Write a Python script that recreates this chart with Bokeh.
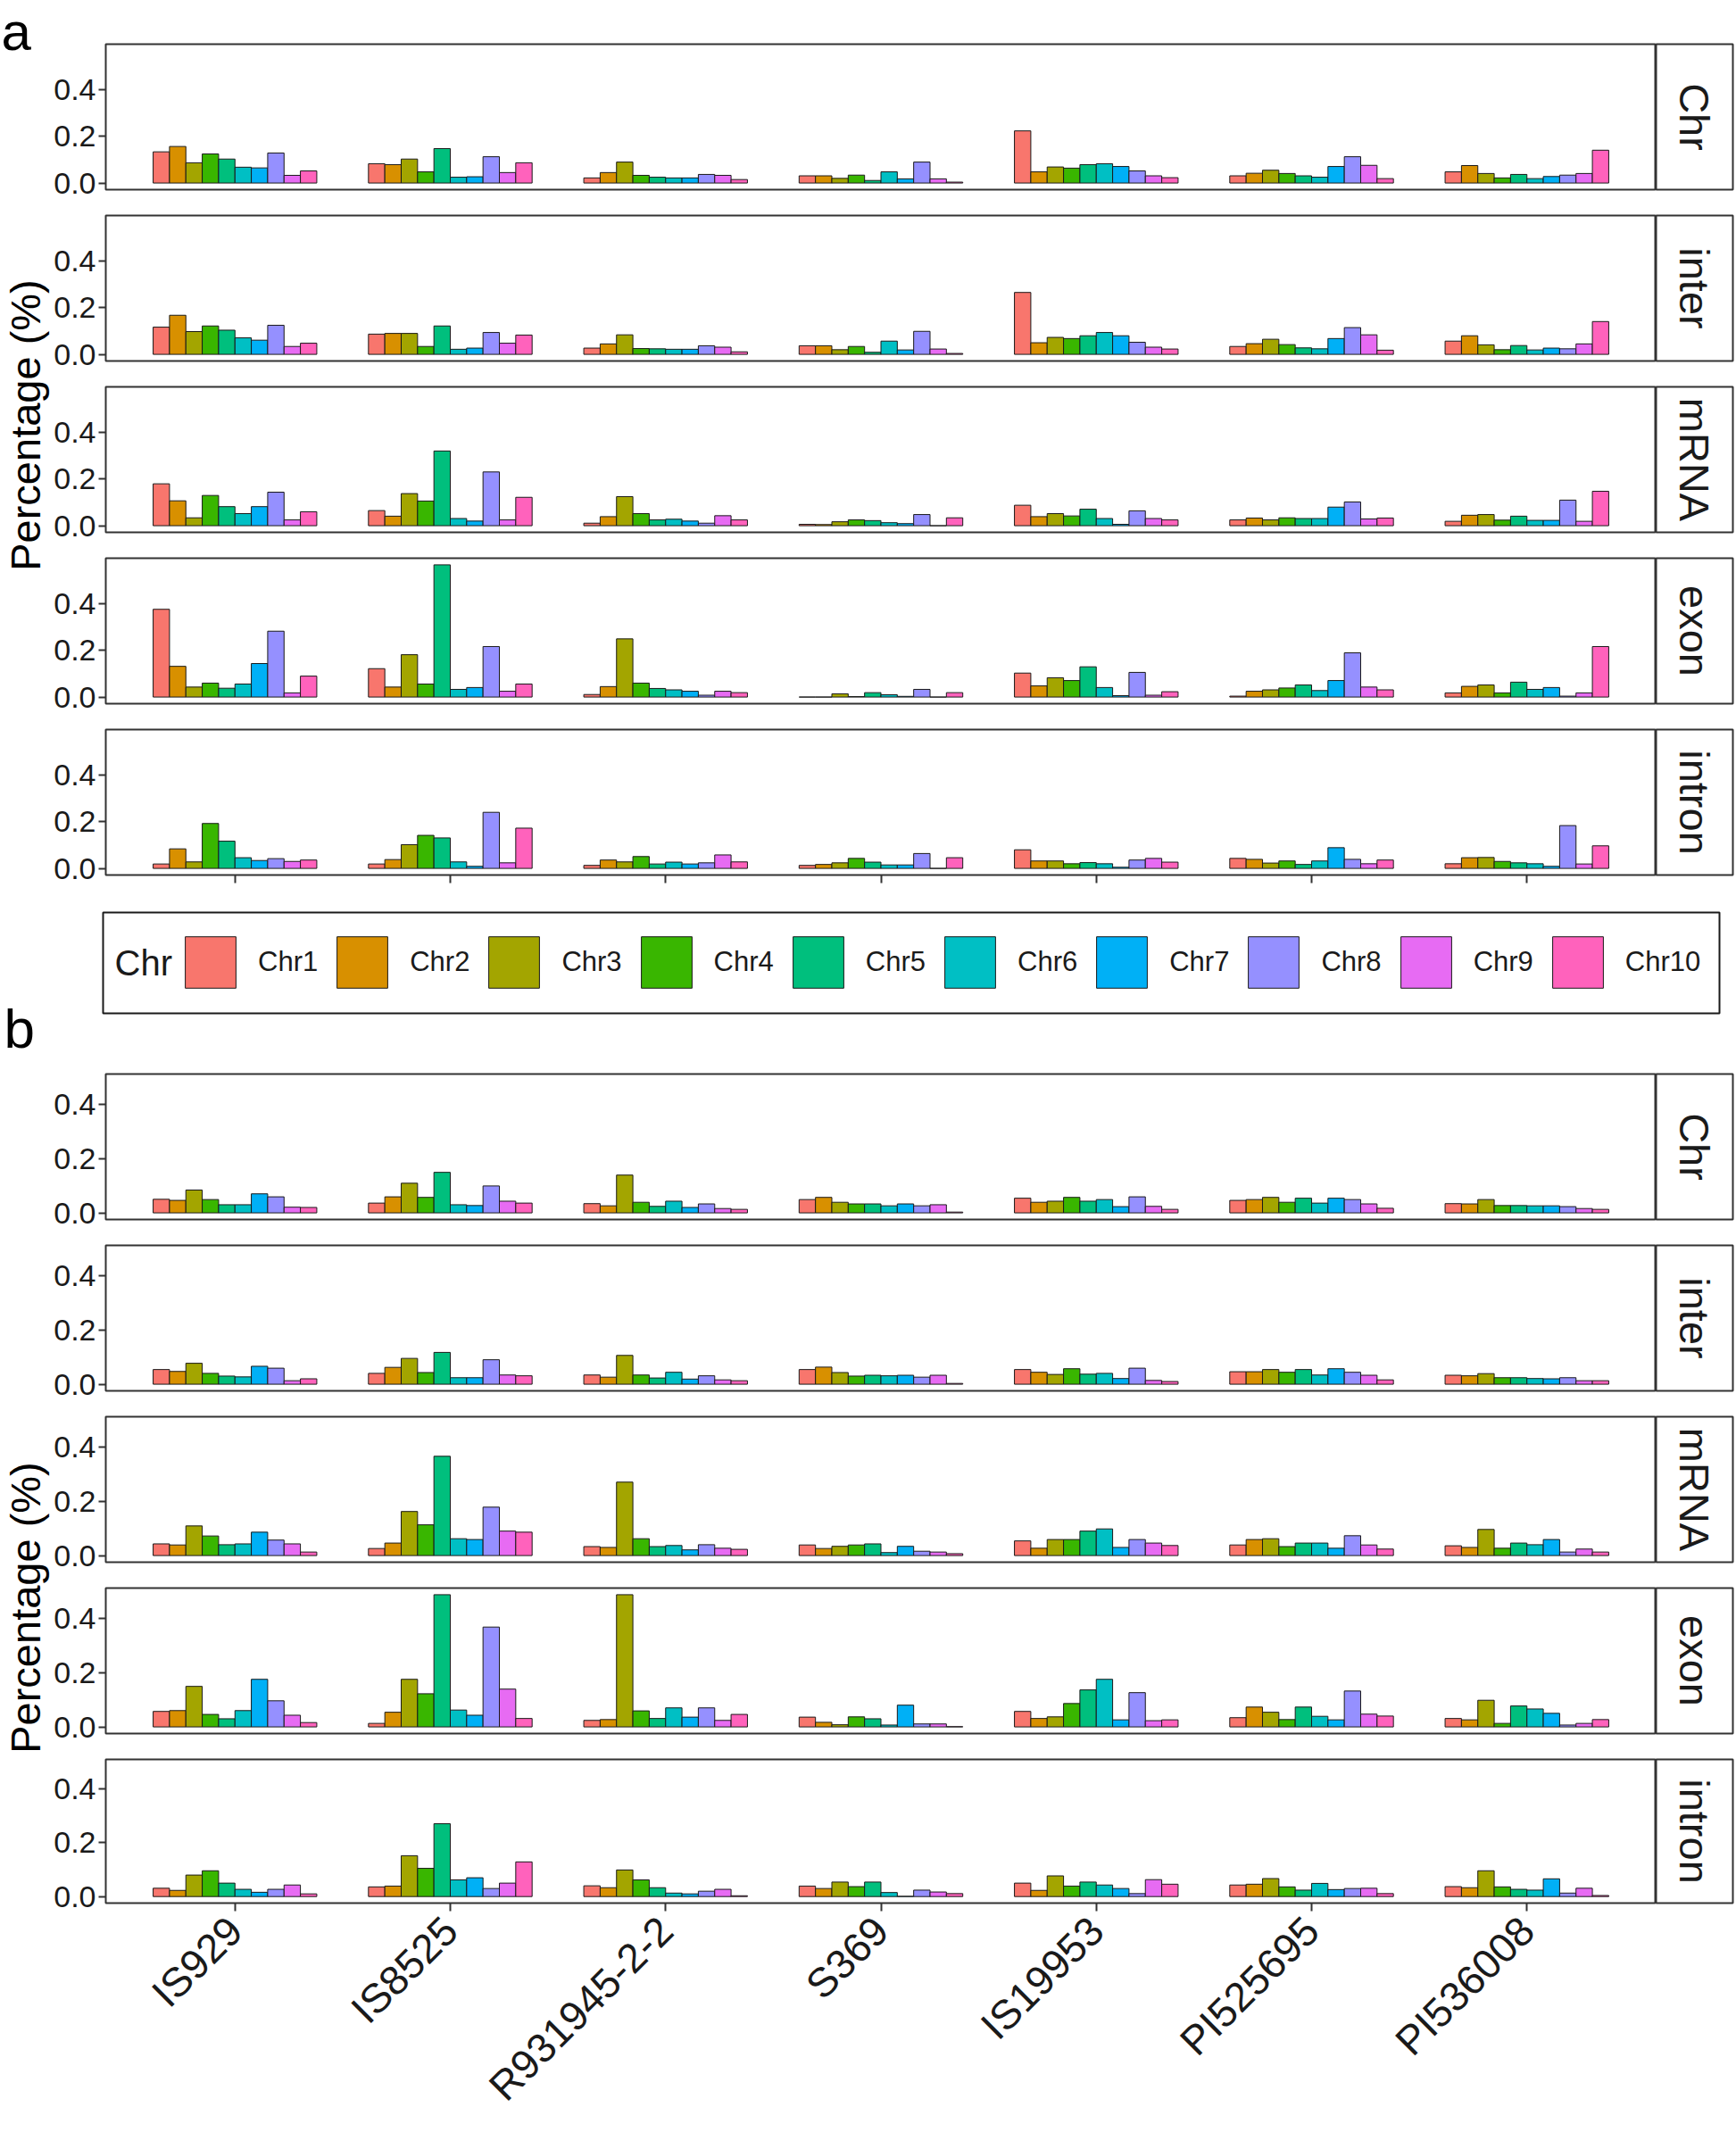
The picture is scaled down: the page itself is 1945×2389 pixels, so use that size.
import math
from bokeh.plotting import figure
from bokeh.layouts import row, column
from bokeh.models import (Range1d, FixedTicker, PrintfTickFormatter, ColumnDataSource,
                          Legend, LegendItem)
from bokeh.core.properties import value
from bokeh.embed import file_html
from bokeh.resources import INLINE

FONT = "Liberation Sans"

samples = ["IS929", "IS8525", "R931945-2-2", "S369", "IS19953", "PI525695", "PI536008"]
chroms = ["Chr1", "Chr2", "Chr3", "Chr4", "Chr5", "Chr6", "Chr7", "Chr8", "Chr9", "Chr10"]
colors = ["#F8766D", "#D89000", "#A3A500", "#39B600", "#00BF7D",
          "#00BFC4", "#00B0F6", "#9590FF", "#E76BF3", "#FF62BC"]
regions = ["Chr", "inter", "mRNA", "exon", "intron"]
y_ticks = [0.0, 0.2, 0.4]

# ---------------- panel a ----------------
a_Chr = [
    [0.134, 0.157, 0.087, 0.125, 0.103, 0.068, 0.065, 0.129, 0.033, 0.052],
    [0.083, 0.079, 0.103, 0.048, 0.148, 0.025, 0.027, 0.113, 0.045, 0.087],
    [0.022, 0.045, 0.090, 0.033, 0.025, 0.022, 0.022, 0.037, 0.033, 0.015],
    [0.031, 0.031, 0.020, 0.034, 0.011, 0.048, 0.018, 0.090, 0.018, 0.004],
    [0.224, 0.048, 0.069, 0.064, 0.079, 0.083, 0.071, 0.052, 0.031, 0.023],
    [0.031, 0.042, 0.055, 0.041, 0.031, 0.025, 0.071, 0.113, 0.076, 0.019],
    [0.048, 0.075, 0.041, 0.022, 0.037, 0.019, 0.028, 0.034, 0.041, 0.141],
]
a_inter = [
    [0.117, 0.168, 0.098, 0.122, 0.104, 0.071, 0.061, 0.125, 0.034, 0.048],
    [0.087, 0.090, 0.090, 0.034, 0.122, 0.022, 0.027, 0.094, 0.048, 0.083],
    [0.027, 0.045, 0.084, 0.025, 0.024, 0.022, 0.022, 0.037, 0.031, 0.011],
    [0.037, 0.037, 0.020, 0.034, 0.009, 0.057, 0.019, 0.099, 0.023, 0.004],
    [0.266, 0.050, 0.073, 0.068, 0.080, 0.094, 0.080, 0.052, 0.031, 0.023],
    [0.034, 0.046, 0.065, 0.042, 0.028, 0.024, 0.068, 0.115, 0.084, 0.018],
    [0.057, 0.080, 0.041, 0.020, 0.038, 0.019, 0.027, 0.024, 0.045, 0.141],
]
a_mRNA = [
    [0.180, 0.107, 0.034, 0.130, 0.082, 0.052, 0.082, 0.144, 0.025, 0.060],
    [0.065, 0.041, 0.138, 0.106, 0.321, 0.031, 0.020, 0.231, 0.025, 0.122],
    [0.011, 0.039, 0.125, 0.052, 0.025, 0.028, 0.020, 0.011, 0.043, 0.025],
    [0.006, 0.005, 0.017, 0.025, 0.022, 0.013, 0.009, 0.048, 0.000, 0.034],
    [0.088, 0.039, 0.052, 0.042, 0.071, 0.031, 0.006, 0.064, 0.031, 0.025],
    [0.025, 0.033, 0.025, 0.034, 0.031, 0.031, 0.080, 0.102, 0.029, 0.033],
    [0.019, 0.045, 0.048, 0.024, 0.041, 0.023, 0.023, 0.110, 0.019, 0.148],
]
a_exon = [
    [0.377, 0.132, 0.043, 0.060, 0.038, 0.056, 0.144, 0.283, 0.018, 0.090],
    [0.122, 0.043, 0.182, 0.056, 0.568, 0.033, 0.041, 0.217, 0.025, 0.056],
    [0.011, 0.045, 0.250, 0.060, 0.037, 0.031, 0.025, 0.008, 0.025, 0.019],
    [0.000, 0.000, 0.014, 0.002, 0.019, 0.010, 0.003, 0.033, 0.000, 0.019],
    [0.103, 0.048, 0.083, 0.071, 0.130, 0.041, 0.006, 0.106, 0.008, 0.023],
    [0.004, 0.025, 0.031, 0.039, 0.052, 0.028, 0.071, 0.190, 0.043, 0.031],
    [0.018, 0.046, 0.052, 0.018, 0.064, 0.033, 0.041, 0.004, 0.018, 0.217],
]
a_intron = [
    [0.019, 0.084, 0.028, 0.193, 0.117, 0.046, 0.034, 0.042, 0.030, 0.036],
    [0.019, 0.038, 0.102, 0.142, 0.131, 0.028, 0.009, 0.241, 0.024, 0.173],
    [0.013, 0.036, 0.028, 0.051, 0.019, 0.027, 0.019, 0.024, 0.058, 0.028],
    [0.013, 0.017, 0.024, 0.043, 0.027, 0.015, 0.015, 0.064, 0.000, 0.046],
    [0.080, 0.032, 0.032, 0.020, 0.025, 0.020, 0.005, 0.036, 0.043, 0.027],
    [0.043, 0.039, 0.023, 0.032, 0.017, 0.032, 0.089, 0.039, 0.020, 0.036],
    [0.020, 0.046, 0.047, 0.030, 0.024, 0.020, 0.009, 0.184, 0.019, 0.097],
]

# ---------------- panel b ----------------
b_Chr = [
    [0.050, 0.046, 0.084, 0.049, 0.030, 0.030, 0.070, 0.059, 0.021, 0.020],
    [0.036, 0.059, 0.109, 0.057, 0.149, 0.030, 0.027, 0.099, 0.043, 0.036],
    [0.034, 0.026, 0.139, 0.039, 0.024, 0.043, 0.020, 0.033, 0.016, 0.013],
    [0.049, 0.057, 0.039, 0.033, 0.033, 0.026, 0.033, 0.026, 0.030, 0.003],
    [0.054, 0.039, 0.043, 0.057, 0.043, 0.049, 0.023, 0.059, 0.024, 0.013],
    [0.046, 0.049, 0.057, 0.039, 0.054, 0.036, 0.054, 0.049, 0.033, 0.017],
    [0.034, 0.033, 0.049, 0.027, 0.027, 0.026, 0.026, 0.023, 0.016, 0.013],
]
b_inter = [
    [0.054, 0.047, 0.077, 0.040, 0.030, 0.027, 0.066, 0.059, 0.013, 0.020],
    [0.040, 0.062, 0.095, 0.043, 0.117, 0.024, 0.024, 0.090, 0.034, 0.031],
    [0.034, 0.026, 0.106, 0.034, 0.023, 0.044, 0.019, 0.031, 0.016, 0.013],
    [0.054, 0.063, 0.043, 0.030, 0.033, 0.031, 0.033, 0.026, 0.033, 0.003],
    [0.054, 0.044, 0.036, 0.057, 0.037, 0.040, 0.021, 0.059, 0.014, 0.010],
    [0.046, 0.046, 0.054, 0.044, 0.054, 0.034, 0.057, 0.044, 0.033, 0.016],
    [0.033, 0.031, 0.039, 0.024, 0.024, 0.021, 0.020, 0.024, 0.013, 0.013],
]
b_mRNA = [
    [0.043, 0.039, 0.109, 0.072, 0.040, 0.043, 0.086, 0.057, 0.043, 0.013],
    [0.026, 0.046, 0.162, 0.113, 0.365, 0.062, 0.059, 0.178, 0.090, 0.086],
    [0.033, 0.030, 0.270, 0.062, 0.033, 0.037, 0.021, 0.040, 0.027, 0.023],
    [0.039, 0.026, 0.034, 0.039, 0.043, 0.011, 0.034, 0.016, 0.013, 0.007],
    [0.054, 0.027, 0.059, 0.059, 0.090, 0.098, 0.030, 0.059, 0.046, 0.037],
    [0.039, 0.059, 0.062, 0.033, 0.046, 0.046, 0.027, 0.073, 0.039, 0.024],
    [0.036, 0.030, 0.096, 0.027, 0.046, 0.040, 0.059, 0.013, 0.024, 0.013],
]
b_exon = [
    [0.057, 0.060, 0.149, 0.046, 0.030, 0.060, 0.175, 0.096, 0.043, 0.016],
    [0.013, 0.054, 0.175, 0.122, 0.486, 0.062, 0.043, 0.367, 0.139, 0.031],
    [0.024, 0.027, 0.486, 0.059, 0.031, 0.070, 0.036, 0.070, 0.024, 0.046],
    [0.036, 0.017, 0.008, 0.037, 0.030, 0.007, 0.080, 0.011, 0.011, 0.001],
    [0.057, 0.031, 0.037, 0.086, 0.136, 0.175, 0.026, 0.126, 0.023, 0.026],
    [0.034, 0.073, 0.054, 0.027, 0.073, 0.039, 0.026, 0.132, 0.047, 0.040],
    [0.031, 0.026, 0.098, 0.013, 0.077, 0.066, 0.050, 0.007, 0.013, 0.027],
]
b_intron = [
    [0.031, 0.023, 0.080, 0.096, 0.050, 0.027, 0.016, 0.027, 0.043, 0.010],
    [0.036, 0.039, 0.152, 0.105, 0.271, 0.062, 0.070, 0.030, 0.050, 0.129],
    [0.040, 0.033, 0.099, 0.062, 0.033, 0.013, 0.010, 0.020, 0.027, 0.003],
    [0.039, 0.030, 0.054, 0.037, 0.054, 0.015, 0.001, 0.024, 0.017, 0.011],
    [0.050, 0.023, 0.077, 0.039, 0.054, 0.043, 0.030, 0.011, 0.063, 0.046],
    [0.043, 0.046, 0.067, 0.036, 0.024, 0.049, 0.026, 0.030, 0.031, 0.011],
    [0.037, 0.033, 0.096, 0.036, 0.027, 0.024, 0.066, 0.013, 0.031, 0.004],
]

panel_a = [a_Chr, a_inter, a_mRNA, a_exon, a_intron]
panel_b = [b_Chr, b_inter, b_mRNA, b_exon, b_intron]

# ---------------- layout constants (pixels) ----------------
W_LEFT = 56
BORDER_L = 62
FRAME_W = 1737
STRIP_W = 86
FRAME_H = 163
GAP = 29
INNER_BOTTOM = 14
DODGE = 0.76
TXT = "#1a1a1a"
LINE = "#333333"


def facet(data, ymax, top, bottom, axis_mode):
    lo, hi = -0.05 * ymax, 1.05 * ymax
    p = figure(width=BORDER_L + FRAME_W, height=top + FRAME_H + bottom,
               x_range=Range1d(0.4, len(samples) + 0.6), y_range=Range1d(lo, hi),
               output_backend="svg", toolbar_location=None, title=None,
               x_axis_location="below" if axis_mode else None, y_axis_location="left",
               min_border_left=BORDER_L, min_border_right=0,
               min_border_top=top, min_border_bottom=bottom)
    p.xgrid.visible = False
    p.ygrid.visible = False
    p.outline_line_color = LINE
    p.outline_line_width = 2
    xs, tops, cols = [], [], []
    for i, _ in enumerate(samples):
        for j, _ in enumerate(chroms):
            xs.append(i + 1 - DODGE / 2 + DODGE / len(chroms) * (j + 0.5))
            tops.append(data[i][j])
            cols.append(colors[j])
    src = ColumnDataSource(dict(x=xs, top=tops, color=cols))
    p.vbar(x="x", top="top", bottom=0, width=DODGE / len(chroms), source=src,
           fill_color="color", line_color=TXT, line_width=1)
    ya = p.yaxis[0]
    ya.ticker = FixedTicker(ticks=y_ticks)
    ya.formatter = PrintfTickFormatter(format="%.1f")
    ya.major_label_text_font = FONT
    ya.major_label_text_font_size = "34px"
    ya.major_label_text_color = TXT
    ya.major_tick_out = 8
    ya.major_tick_in = 0
    ya.minor_tick_out = 0
    ya.minor_tick_in = 0
    ya.axis_line_color = None
    ya.major_tick_line_color = LINE
    ya.major_tick_line_width = 2
    ya.major_label_standoff = 3
    if axis_mode:
        xa = p.xaxis[0]
        xa.axis_line_color = None
        xa.major_tick_in = 0
        xa.minor_tick_in = 0
        xa.major_tick_line_color = LINE
        xa.major_tick_line_width = 2
        xa.minor_tick_line_color = LINE
        xa.minor_tick_line_width = 2
        positions = list(range(1, len(samples) + 1))
        if axis_mode == "labels":
            xa.ticker = FixedTicker(ticks=positions)
            xa.major_tick_out = 9
            xa.minor_tick_out = 0
            xa.major_label_overrides = {i + 1: s for i, s in enumerate(samples)}
            xa.major_label_orientation = math.pi / 4
            xa.major_label_text_font = FONT
            xa.major_label_text_font_size = "46px"
            xa.major_label_text_color = TXT
            xa.major_label_standoff = 14
        else:
            # tick marks only, no labels
            xa.ticker = FixedTicker(ticks=[], minor_ticks=positions)
            xa.major_tick_out = 0
            xa.minor_tick_out = 9
    return p


def strip(name, top, bottom):
    s = figure(width=STRIP_W + 2, height=top + FRAME_H + bottom,
               x_range=Range1d(0, 1), y_range=Range1d(0, 1),
               output_backend="svg", toolbar_location=None, title=None,
               x_axis_location=None, y_axis_location=None,
               min_border_left=0, min_border_right=2,
               min_border_top=top, min_border_bottom=bottom)
    s.xgrid.visible = False
    s.ygrid.visible = False
    s.outline_line_color = LINE
    s.outline_line_width = 2
    s.text(x=[0.5], y=[0.5], text=[name], angle=-math.pi / 2,
           text_align="center", text_baseline="middle",
           text_font=value(FONT), text_font_size="47px", text_color=TXT)
    return s


def panel(datasets, first_top, last_bottom, axis_mode):
    ymax = max(max(max(r) for r in d) for d in datasets)
    rows = []
    n = len(datasets)
    for k, (name, d) in enumerate(zip(regions, datasets)):
        top = first_top if k == 0 else GAP - INNER_BOTTOM
        bottom = last_bottom if k == n - 1 else INNER_BOTTOM
        mode = axis_mode if k == n - 1 else None
        rows.append(row(facet(d, ymax, top, bottom, mode), strip(name, top, bottom), spacing=0))
    return rows


rows_a = panel(panel_a, 49, 16, "ticks")
rows_b = panel(panel_b, 63, 251, "labels")

# ---------------- legend ----------------
LEG_W, LEG_H = 1811, 113
RIGHT_W = BORDER_L + FRAME_W + STRIP_W + 2
lg = figure(width=RIGHT_W, height=26 + LEG_H + 5,
            x_range=Range1d(0, LEG_W), y_range=Range1d(LEG_H, 0),
            output_backend="svg", toolbar_location=None, title=None,
            x_axis_location=None, y_axis_location=None,
            min_border_left=115 - W_LEFT, min_border_right=RIGHT_W - (115 - W_LEFT) - LEG_W,
            min_border_top=26, min_border_bottom=5)
lg.xgrid.visible = False
lg.ygrid.visible = False
lg.outline_line_color = TXT
lg.outline_line_width = 2
items = []
for c, col in zip(chroms, colors):
    # legend-key renderer only: a single NaN row draws nothing in the frame
    r = lg.vbar(x=[float("nan")], top=[float("nan")], width=1,
                fill_color=col, line_color=TXT, line_width=1)
    items.append(LegendItem(label=c, renderers=[r]))
legend = Legend(items=items, orientation="horizontal", location=(85, 21),
                glyph_width=71, glyph_height=72, label_standoff=18, spacing=14,
                padding=0, margin=0, border_line_color=None, background_fill_alpha=0,
                label_text_font=FONT, label_text_font_size="31px", label_text_color=TXT)
lg.add_layout(legend)
lg.text(x=[13], y=[LEG_H / 2], text=["Chr"], text_baseline="middle", text_align="left",
        text_font=value(FONT), text_font_size="40px", text_color=TXT)

right_col = column(rows_a + [lg] + rows_b, spacing=0)

# ---------------- left labels ----------------
TOTAL_H = sum(r.children[0].height for r in rows_a) + lg.height + sum(r.children[0].height for r in rows_b)
left = figure(width=W_LEFT, height=TOTAL_H, x_range=Range1d(0, W_LEFT), y_range=Range1d(TOTAL_H, 0),
              output_backend="svg", toolbar_location=None, title=None,
              x_axis_location=None, y_axis_location=None,
              min_border_left=0, min_border_right=0, min_border_top=0, min_border_bottom=0)
left.xgrid.visible = False
left.ygrid.visible = False
left.outline_line_color = None
left.text(x=[1], y=[1], text=["a"], text_align="left", text_baseline="top",
          text_font=value(FONT), text_font_size="60px", text_color="#000000")
left.text(x=[4], y=[1152], text=["b"], text_align="left", text_baseline="alphabetic",
          text_font=value(FONT), text_font_size="62px", text_color="#000000")
left.text(x=[28, 28], y=[476, 1801], text=["Percentage (%)", "Percentage (%)"], angle=math.pi / 2,
          text_align="center", text_baseline="middle",
          text_font=value(FONT), text_font_size="47px", text_color="#000000")

layout = row(left, right_col, spacing=0)

open("out.html", "w").write(file_html(layout, INLINE))
